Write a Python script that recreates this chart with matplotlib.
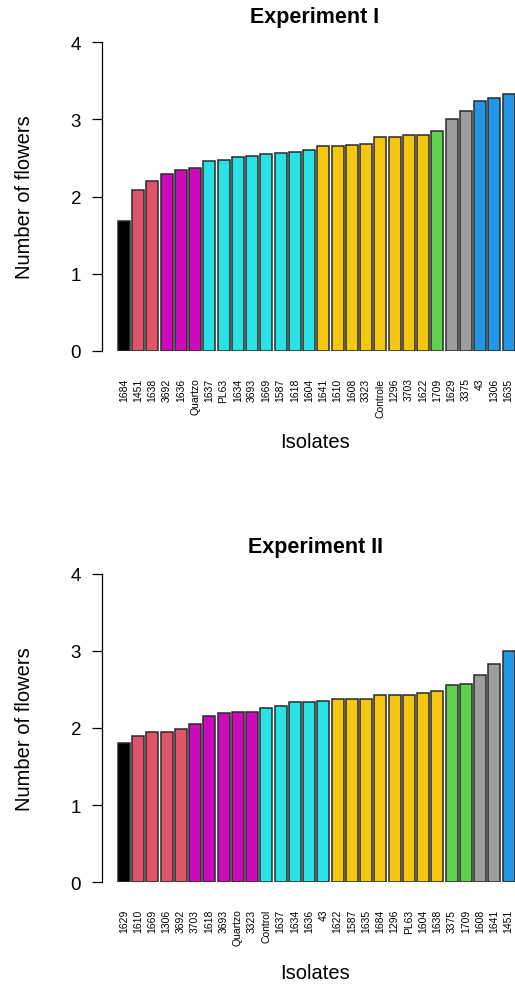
import matplotlib
matplotlib.use("Agg")
import matplotlib.pyplot as plt

plt.rcParams['font.family'] = ['Liberation Sans', 'DejaVu Sans']

# R 4.x default palette
BLACK, RED, MAGENTA, CYAN = '#000000', '#DF536B', '#CD0BBC', '#28E2E5'
YELLOW, GREEN, GRAY, BLUE = '#F5C710', '#61D04F', '#9E9E9E', '#2297E6'

# Experiment I
iso1 = ['1684', '1451', '1638', '3692', '1636', 'Quartzo', '1637', 'PL63', '1634',
        '3693', '1669', '1587', '1618', '1604', '1641', '1610', '1608', '3323',
        'Controle', '1296', '3703', '1622', '1709', '1629', '3375', '43', '1306', '1635']
val1 = [1.69, 2.08, 2.20, 2.29, 2.34, 2.37, 2.46, 2.47, 2.51, 2.53, 2.55, 2.56, 2.58, 2.60,
        2.65, 2.65, 2.67, 2.68, 2.77, 2.77, 2.80, 2.80, 2.85, 3.01, 3.11, 3.24, 3.28, 3.33]
col1 = [BLACK] + [RED] * 2 + [MAGENTA] * 3 + [CYAN] * 8 + [YELLOW] * 8 + [GREEN] + [GRAY] * 2 + [BLUE] * 3

# Experiment II
iso2 = ['1629', '1610', '1669', '1306', '3692', '3703', '1618', '3693', 'Quartzo', '3323',
        'Control', '1637', '1634', '1636', '43', '1622', '1587', '1635', '1684', '1296',
        'PL63', '1604', '1638', '3375', '1709', '1608', '1641', '1451']
val2 = [1.80, 1.90, 1.95, 1.95, 1.99, 2.05, 2.16, 2.19, 2.21, 2.21, 2.26, 2.28, 2.33, 2.33,
        2.35, 2.38, 2.38, 2.38, 2.42, 2.43, 2.43, 2.45, 2.48, 2.56, 2.57, 2.68, 2.83, 3.00]
col2 = [BLACK] + [RED] * 4 + [MAGENTA] * 5 + [CYAN] * 5 + [YELLOW] * 8 + [GREEN] * 2 + [GRAY] * 2 + [BLUE]

W, H = 515, 987
fig = plt.figure(figsize=(W / 100, H / 100), dpi=100)


def panel(bottom_px, title, title_y, lab_y, names, vals, cols):
    # bottom_px: pixel row of y=0 ; axis spans 4 units at 77.2 px each
    h = 4 * 77.2
    ax = fig.add_axes([102 / W, (H - bottom_px) / H, 428.5 / W, h / H])
    n = len(vals)
    xs = [0.7 + 1.2 * i for i in range(n)]
    ax.bar(xs, vals, width=1.0, color=cols, edgecolor='#2a2a2a', linewidth=1.1)
    ax.set_xlim(-1.136, 34.936)
    ax.set_ylim(0, 4)
    for s in ['top', 'right', 'bottom']:
        ax.spines[s].set_visible(False)
    ax.spines['left'].set_bounds(0, 4)
    ax.spines['left'].set_linewidth(0.9)
    ax.set_yticks([0, 1, 2, 3, 4])
    ax.tick_params(axis='y', length=7, width=0.9, pad=8, labelsize=13.5)
    ax.set_xticks(xs)
    ax.set_xticklabels(names, rotation=90, fontsize=7.5, va='top')
    ax.tick_params(axis='x', length=0, pad=19)
    fig.text(315 / W, 1 - title_y / H, title, ha='center', va='center',
             fontsize=15.5, fontweight='bold')
    fig.text(315 / W, 1 - lab_y / H, 'Isolates', ha='center', va='center', fontsize=14.5)
    fig.text(25 / W, 1 - (bottom_px - h / 2) / H, 'Number of flowers', ha='center',
             va='center', rotation=90, fontsize=14.5)
    return ax


panel(352, 'Experiment I', 18, 442, iso1, val1, col1)
panel(883.3, 'Experiment II', 548, 974, iso2, val2, col2)

fig.savefig('out.png', dpi=100)
